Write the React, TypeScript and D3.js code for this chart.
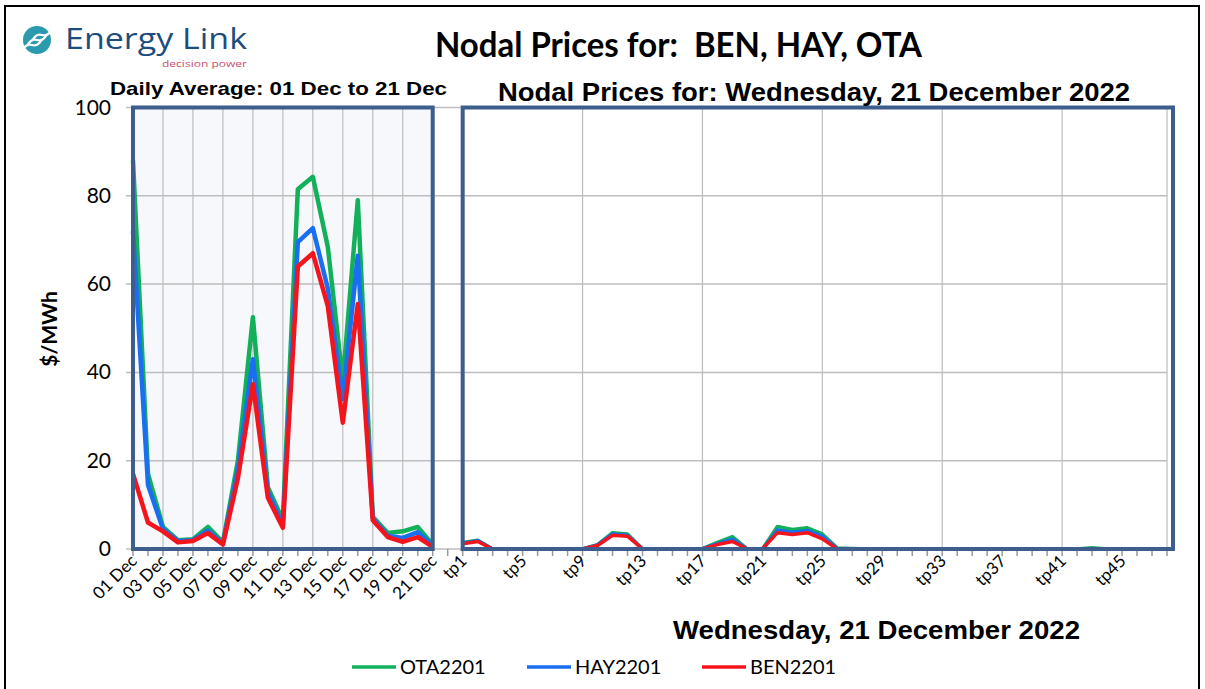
import * as d3 from "d3";
import { useEffect, useRef } from "react";

// daily averages, 01 Dec to 21 Dec
const days = ["01 Dec", "02 Dec", "03 Dec", "04 Dec", "05 Dec", "06 Dec", "07 Dec", "08 Dec", "09 Dec", "10 Dec",
  "11 Dec", "12 Dec", "13 Dec", "14 Dec", "15 Dec", "16 Dec", "17 Dec", "18 Dec", "19 Dec", "20 Dec", "21 Dec"];
const otaDaily = [88, 17, 5, 2, 2.2, 5, 1.5, 20, 52.5, 14, 6.5, 81.5, 84.3, 68.4, 38, 79, 7.3, 3.6, 4, 5, 1];
const hayDaily = [72, 14.5, 4.5, 1.8, 2, 4.2, 1.2, 18, 43, 13, 5.5, 69.5, 72.7, 59, 34, 66.4, 7, 3, 2.5, 3.8, 0.8];
const benDaily = [17, 6, 4, 1.5, 1.8, 3.6, 1, 16, 37.3, 11.6, 4.8, 64, 67, 55, 28.6, 55.5, 6.5, 2.7, 1.6, 2.7, 0.5];

// trading periods on 21 Dec
const tps = d3.range(1, 49).map((i) => "tp" + i);
const otaTp = [1.5, 2, 0, 0, 0, 0, 0, 0, 0, 1, 3.7, 3.4, 0, 0, 0, 0, 0.1, 1.5, 2.8, 0, 0, 5.1, 4.4, 4.8,
  3.4, 0.2, 0.1, 0, 0, 0, 0, 0, 0, 0, 0, 0, 0, 0, 0, 0, 0, 0, 0.3, 0, 0, 0, 0, 0];
const hayTp = [1.3, 1.9, 0, 0, 0, 0, 0, 0, 0, 0.9, 3.4, 3.1, 0, 0, 0, 0, 0.05, 1.2, 2.2, 0, 0, 4.3, 3.8, 4.2,
  2.9, 0.1, 0, 0, 0, 0, 0, 0, 0, 0, 0, 0, 0, 0, 0, 0, 0, 0, 0, 0, 0, 0, 0, 0];
const benTp = [1.2, 1.7, 0, 0, 0, 0, 0, 0, 0, 0.8, 3.1, 2.9, 0, 0, 0, 0, 0, 1, 1.7, 0, 0, 3.7, 3.3, 3.7,
  2.3, 0, 0, 0, 0, 0, 0, 0, 0, 0, 0, 0, 0, 0, 0, 0, 0, 0, 0, 0, 0, 0, 0, 0];

const yTicks = [0, 20, 40, 60, 80, 100];
const seriesNames = ["OTA2201", "HAY2201", "BEN2201"];
const colors = ["#12b05a", "#1a6ef2", "#f5141c"];

function App() {
  const svgRef = useRef(null);

  useEffect(() => {
    const svg = d3.select(svgRef.current);
    svg.selectAll("*").remove();

    const cats = [...days, "gap", ...tps];
    const x = d3.scalePoint().domain(cats).range([133, 1167]);
    const y = d3.scaleLinear().domain([0, 100]).range([549, 107.5]);

    const frame = "#3d5d8c";
    const grid = "#bdbdbd";

    // outer border
    svg.append("rect").attr("x", 5).attr("y", 6).attr("width", 1194).attr("height", 700)
      .attr("fill", "white").attr("stroke", "black").attr("stroke-width", 2);

    // left panel background
    svg.append("rect").attr("x", x("01 Dec")).attr("y", y(100))
      .attr("width", x("21 Dec") - x("01 Dec")).attr("height", y(0) - y(100))
      .attr("fill", "#f6f8fc");

    // horizontal grid
    svg.append("g").selectAll("line").data(yTicks).join("line")
      .attr("x1", 126).attr("x2", x("tp48"))
      .attr("y1", (d) => y(d)).attr("y2", (d) => y(d))
      .attr("stroke", grid).attr("stroke-width", 1.5);

    // vertical grid
    const vDays = days.filter((d, i) => i % 2 === 0);
    const vTps = tps.filter((d, i) => i % 8 === 0).concat(["tp48"]);
    svg.append("g").selectAll("line").data([...vDays, ...vTps]).join("line")
      .attr("x1", (d) => x(d)).attr("x2", (d) => x(d))
      .attr("y1", y(100)).attr("y2", y(0))
      .attr("stroke", grid).attr("stroke-width", 1.2);

    // y axis labels
    svg.append("g").selectAll("text").data(yTicks).join("text")
      .attr("x", 111).attr("y", (d) => y(d) + 7)
      .attr("text-anchor", "end")
      .style("font-family", "Lato, sans-serif").style("font-size", "21px")
      .text((d) => d);

    // x ticks
    svg.append("g").selectAll("line").data(cats).join("line")
      .attr("x1", (d) => x(d)).attr("x2", (d) => x(d))
      .attr("y1", 549).attr("y2", 556)
      .attr("stroke", "#999").attr("stroke-width", 1.5);

    const xLabels = [...days.filter((d, i) => i % 2 === 0), ...tps.filter((d, i) => i % 4 === 0)];
    svg.append("g").selectAll("text").data(xLabels).join("text")
      .attr("transform", (d) => `translate(${x(d) + 5},${562}) rotate(-45)`)
      .attr("text-anchor", "end")
      .style("font-family", "Lato, sans-serif").style("font-size", "17px")
      .text((d) => d);

    // lines
    const line = d3.line().x((d) => x(d[0])).y((d) => y(d[1]));
    const daily = [otaDaily, hayDaily, benDaily];
    const tpData = [otaTp, hayTp, benTp];
    daily.forEach((vals, k) => {
      svg.append("path")
        .datum(vals.map((v, i) => [days[i], v]))
        .attr("d", line).attr("fill", "none")
        .attr("stroke", colors[k]).attr("stroke-width", 4.5).attr("stroke-linejoin", "round");
    });
    tpData.forEach((vals, k) => {
      svg.append("path")
        .datum(vals.map((v, i) => [tps[i], v]))
        .attr("d", line).attr("fill", "none")
        .attr("stroke", colors[k]).attr("stroke-width", 3.5).attr("stroke-linejoin", "round");
    });

    // panel frames
    svg.append("rect").attr("x", x("01 Dec")).attr("y", y(100))
      .attr("width", x("21 Dec") - x("01 Dec")).attr("height", y(0) - y(100))
      .attr("fill", "none").attr("stroke", frame).attr("stroke-width", 4);
    svg.append("rect").attr("x", x("tp1")).attr("y", y(100))
      .attr("width", x("tp48") - x("tp1") + 6).attr("height", y(0) - y(100))
      .attr("fill", "none").attr("stroke", frame).attr("stroke-width", 4);

    // titles
    svg.append("text").attr("x", 435).attr("y", 57)
      .attr("textLength", 487).attr("lengthAdjust", "spacingAndGlyphs")
      .style("white-space", "pre")
      .style("font-family", "Lato, sans-serif").style("font-weight", "bold").style("font-size", "35px")
      .text("Nodal Prices for:  BEN, HAY, OTA");
    svg.append("text").attr("x", 110).attr("y", 95)
      .attr("textLength", 337).attr("lengthAdjust", "spacingAndGlyphs")
      .style("font-family", "Liberation Sans, Arial, sans-serif").style("font-weight", "bold").style("font-size", "19px")
      .text("Daily Average: 01 Dec to 21 Dec");
    svg.append("text").attr("x", 498).attr("y", 101)
      .attr("textLength", 632).attr("lengthAdjust", "spacingAndGlyphs")
      .style("font-family", "Liberation Sans, Arial, sans-serif").style("font-weight", "bold").style("font-size", "25px")
      .text("Nodal Prices for: Wednesday, 21 December 2022");
    svg.append("text").attr("x", 673).attr("y", 639)
      .attr("textLength", 407).attr("lengthAdjust", "spacingAndGlyphs")
      .style("font-family", "Liberation Sans, Arial, sans-serif").style("font-weight", "bold").style("font-size", "25px")
      .text("Wednesday, 21 December 2022");
    svg.append("text")
      .attr("transform", "translate(57,329) rotate(-90)")
      .attr("text-anchor", "middle")
      .style("font-family", "Lato, sans-serif").style("font-weight", "bold").style("font-size", "21px")
      .text("$/MWh");

    // legend
    const legX = [352, 527, 702];
    seriesNames.forEach((name, k) => {
      svg.append("line").attr("x1", legX[k]).attr("x2", legX[k] + 44)
        .attr("y1", 667).attr("y2", 667)
        .attr("stroke", colors[k]).attr("stroke-width", 3.5);
      svg.append("text").attr("x", legX[k] + 48).attr("y", 674)
        .style("font-family", "Lato, sans-serif").style("font-size", "20px")
        .text(name);
    });

    // logo
    const logo = svg.append("g");
    logo.append("circle").attr("cx", 37).attr("cy", 40).attr("r", 14).attr("fill", "#2b9aae");
    [-5, 0, 5].forEach((o) => {
      logo.append("path")
        .attr("d", `M ${27 + o} ${46 - o} q 4 -8 10 -6 q 6 2 10 -6`)
        .attr("fill", "none").attr("stroke", "white").attr("stroke-width", 2.2);
    });
    logo.append("text").attr("x", 65).attr("y", 49)
      .attr("textLength", 182).attr("lengthAdjust", "spacingAndGlyphs")
      .style("font-family", "Open Sans, sans-serif").style("font-size", "29px").attr("fill", "#1c4d7c")
      .text("Energy Link");
    logo.append("text").attr("x", 162).attr("y", 67)
      .attr("textLength", 85).attr("lengthAdjust", "spacingAndGlyphs")
      .style("font-family", "Open Sans, sans-serif").style("font-size", "9px").attr("fill", "#c8506d")
      .text("decision power");
  }, []);

  return (
    <svg ref={svgRef} width={1205} height={689}
      style={{ position: "absolute", left: 0, top: 0, background: "white" }} />
  );
}

export default App;
